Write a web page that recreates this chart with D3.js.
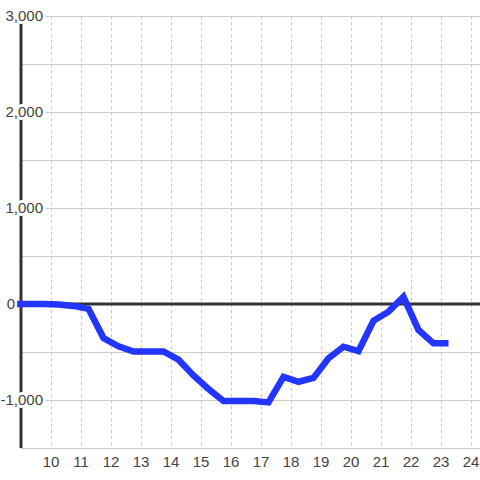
<!DOCTYPE html>
<html>
<head>
<meta charset="utf-8">
<script src="https://cdn.jsdelivr.net/npm/d3@7"></script>
<style>
  html, body { margin: 0; padding: 0; background: #fff; }
  svg { display: block; }
  text { font-family: "Liberation Sans", Arial, sans-serif; }
</style>
</head>
<body>
<svg id="chart" width="480" height="480"></svg>
<script>
// ---- data ----
const hours = [8.87, 9.25, 9.75, 10.25, 10.75, 11.25, 11.75, 12.25, 12.75, 13.25, 13.75,
  14.25, 14.75, 15.25, 15.75, 16.25, 16.75, 17.25, 17.75, 18.25, 18.75,
  19.25, 19.75, 20.25, 20.75, 21.25, 21.75, 22.25, 22.75, 23.25];
const values = [0, 0, 0, -5, -20, -50, -355, -440, -495, -495, -495,
  -580, -745, -885, -1010, -1010, -1010, -1025, -760, -810, -770,
  -565, -445, -490, -175, -80, 75, -270, -410, -410];
const xTicks = [10, 11, 12, 13, 14, 15, 16, 17, 18, 19, 20, 21, 22, 23, 24];
const yTicks = [-1000, 0, 1000, 2000, 3000];
const yGrid = [-1500, -1000, -500, 0, 500, 1000, 1500, 2000, 2500, 3000];

const svg = d3.select("#chart");
const mLeft = 21, mRight = 480, mTop = 16, mBottom = 448;

const x = d3.scaleLinear().domain([9, 24.3]).range([mLeft, mLeft + 15.3 * 30]);
const y = d3.scaleLinear().domain([-1500, 3000]).range([mBottom, mTop]);

// horizontal grid
svg.append("g").selectAll("line").data(yGrid).join("line")
  .attr("x1", mLeft).attr("x2", mRight)
  .attr("y1", d => y(d) + 0.5).attr("y2", d => y(d) + 0.5)
  .attr("stroke", "#cccccc").attr("stroke-width", 1);

// vertical dashed grid
svg.append("g").selectAll("line").data(xTicks).join("line")
  .attr("x1", d => Math.round(x(d)) + 0.5).attr("x2", d => Math.round(x(d)) + 0.5)
  .attr("y1", mTop).attr("y2", mBottom)
  .attr("stroke", "#c8c8c8").attr("stroke-width", 1)
  .attr("stroke-dasharray", "3,3");

// left axis line
svg.append("line")
  .attr("x1", mLeft).attr("x2", mLeft)
  .attr("y1", mTop).attr("y2", mBottom)
  .attr("stroke", "#333").attr("stroke-width", 3);

// zero line
svg.append("line")
  .attr("x1", mLeft).attr("x2", mRight)
  .attr("y1", y(0)).attr("y2", y(0))
  .attr("stroke", "#333").attr("stroke-width", 3);

// y labels with white halo
const fmt = d3.format(",");
svg.append("g").selectAll("text").data(yTicks).join("text")
  .attr("x", d => d === 0 ? mLeft - 6 : mLeft + 22)
  .attr("y", d => y(d))
  .attr("dy", "0.35em")
  .attr("text-anchor", "end")
  .attr("font-size", 15)
  .attr("fill", "#444")
  .attr("stroke", "#fff").attr("stroke-width", 6)
  .attr("paint-order", "stroke")
  .text(d => fmt(d).replace("−", "-"));

// x labels
svg.append("g").selectAll("text").data(xTicks).join("text")
  .attr("x", d => x(d))
  .attr("y", 467)
  .attr("text-anchor", "middle")
  .attr("font-size", 15)
  .attr("fill", "#444")
  .text(d => d);

// data line
const pts = hours.map((h, i) => [h, values[i]]);
svg.append("path")
  .datum(pts)
  .attr("fill", "none")
  .attr("stroke", "#2236ff")
  .attr("stroke-width", 6.5)
  .attr("stroke-linejoin", "miter")
  .attr("d", d3.line().x(d => x(d[0])).y(d => y(d[1])));
</script>
</body>
</html>
